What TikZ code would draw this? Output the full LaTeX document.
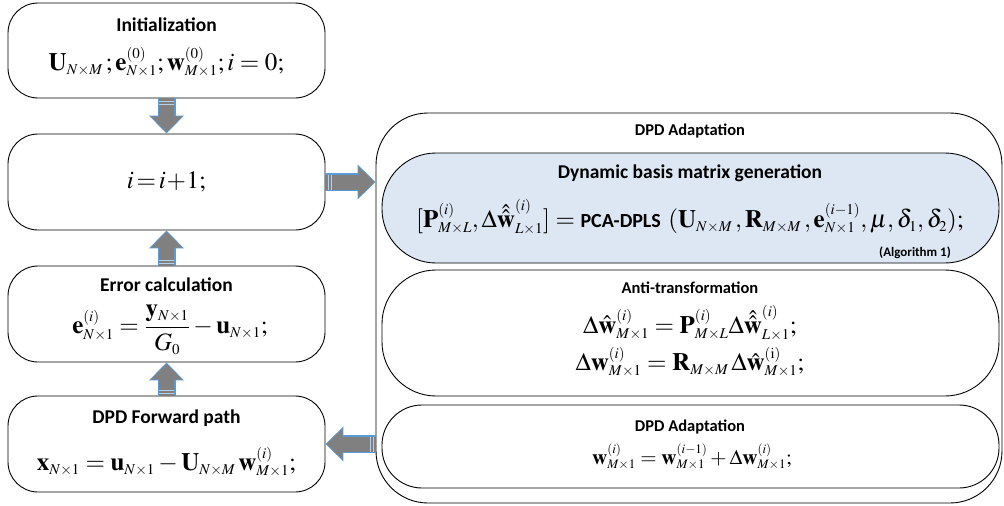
\documentclass[tikz,border=0pt]{standalone}
\usepackage{mathptmx}
\usepackage[no-math]{fontspec}
\setsansfont{Carlito}
\usetikzlibrary{arrows.meta,calc,decorations.markings}
\DeclareMathSizes{25}{25}{15}{11}
\DeclareMathSizes{21}{21}{13}{10}
\definecolor{glow}{RGB}{91,155,213}
\definecolor{arrgray}{RGB}{128,128,128}
\definecolor{bluefill}{RGB}{221,231,243}
\tikzset{
  box/.style={draw=black, line width=0.9pt, rounded corners=30pt, inner sep=0pt},
  bigbox/.style={draw=black, line width=0.9pt, rounded corners=52pt, inner sep=0pt},
  subbox/.style={draw=black, line width=0.9pt, rounded corners=54pt, inner sep=0pt},
  lowbox/.style={draw=black, line width=0.9pt, rounded corners=40pt, inner sep=0pt},
  ttl/.style={font=\sffamily\bfseries\fontsize{19.5}{22}\selectfont, inner sep=0pt},
  gttl/.style={font=\sffamily\bfseries\fontsize{19.5}{22}\selectfont, inner sep=0pt},
  rttl/.style={font=\sffamily\bfseries\fontsize{16.5}{19}\selectfont, inner sep=0pt},
  small/.style={font=\sffamily\bfseries\fontsize{13}{15}\selectfont, inner sep=0pt},
  eqn/.style={font=\fontsize{25}{30}\selectfont, inner sep=0pt},
  eqx/.style={font=\fontsize{21}{25}\selectfont, inner sep=0pt},
  stripe/.style={arrows=-, shorten >=0pt, shorten <=0pt, draw=white!55!glow, line width=0.9pt},
  glowarr/.style={line width=18pt, draw=glow, -{Triangle[width=34pt,length=18pt]}},
  grayarr/.style={line width=15pt, draw=arrgray, -{Triangle[width=30pt,length=16pt]}, shorten >=1.2pt,
    postaction={decorate, decoration={markings,
      mark=at position 2.5pt with {\draw[stripe] (0,-7.5) -- (0,7.5);},
      mark=at position 5.5pt with {\draw[stripe] (0,-7.5) -- (0,7.5);}}}},
}
\begin{document}
\begin{tikzpicture}[x=1pt,y=-1pt]
\useasboundingbox (0,0) rectangle (1004,506);
\fill[white] (0,0) rectangle (1004,506);

% left column
\node[box, minimum width=317pt, minimum height=95pt] (init) at (166.5,50.5) {};
\node[box, minimum width=317pt, minimum height=96pt] (ibox) at (166.5,182) {};
\node[box, minimum width=317pt, minimum height=96pt] (err) at (166.5,314) {};
\node[box, minimum width=317pt, minimum height=96pt] (fwd) at (166.5,444) {};

\node[ttl] (initT) at (166.5,25) {Initialization};
\node[eqn] (initE) at (166.5,62) {$\mathbf{U}_{N\times M}\,;\mathbf{e}^{(0)}_{N\times 1};\mathbf{w}^{(0)}_{M\times 1};i=0;$};
\node[eqn] (iE) at (166.5,182) {$i\!=\!i\!+\!1;$};
\node[ttl] (errT) at (166.5,285) {Error calculation};
\node[eqn] (errE) at (170,330) {$\displaystyle\mathbf{e}^{(i)}_{N\times 1}=\frac{\mathbf{y}_{N\times 1}}{G_0}-\mathbf{u}_{N\times 1};$};
\node[ttl] (fwdT) at (166.5,418) {DPD Forward path};
\node[eqn] (fwdE) at (166.5,462) {$\mathbf{x}_{N\times 1}=\mathbf{u}_{N\times 1}-\mathbf{U}_{N\times M}\,\mathbf{w}^{(i)}_{M\times 1};$};

% right column
\node[bigbox, minimum width=626pt, minimum height=390pt] (big) at (689,308) {};
\node[subbox, fill=bluefill, minimum width=617pt, minimum height=110pt] (gen) at (690.5,208) {};
\node[subbox, minimum width=617pt, minimum height=126pt] (anti) at (690.5,333) {};
\node[lowbox, minimum width=617pt, minimum height=83pt] (upd) at (690.5,446.5) {};

\node[rttl] (bigT) at (690,131) {DPD Adaptation};
\node[gttl] (genT) at (690,173) {Dynamic basis matrix generation};
\node[eqn] (genE) at (690,217) {$[\mathbf{P}^{(i)}_{M\times L},\Delta\hat{\hat{\mathbf{w}}}^{(i)}_{L\times 1}]=\mbox{\sffamily\bfseries\fontsize{20}{22}\selectfont PCA-DPLS}\ (\mathbf{U}_{N\times M}\,,\mathbf{R}_{M\times M}\,,\mathbf{e}^{(i-1)}_{N\times 1},\mu,\delta_1,\delta_2);$};
\node[small, anchor=east] (alg) at (951,253) {(Algorithm 1)};
\node[rttl] (antiT) at (690,288) {Anti-transformation};
\node[eqn] (antiE1) at (690,323) {$\Delta\hat{\mathbf{w}}^{(i)}_{M\times 1}=\mathbf{P}^{(i)}_{M\times L}\Delta\hat{\hat{\mathbf{w}}}^{(i)}_{L\times 1};$};
\node[eqn] (antiE2) at (690,362) {$\Delta\mathbf{w}^{(i)}_{M\times 1}=\mathbf{R}_{M\times M}\,\Delta\hat{\mathbf{w}}^{(\mathrm{i})}_{M\times 1};$};
\node[rttl] (updT) at (690,427) {DPD Adaptation};
\node[eqx] (updE) at (692,457) {$\mathbf{w}^{(i)}_{M\times 1}=\mathbf{w}^{(i-1)}_{M\times 1}+\Delta\mathbf{w}^{(i)}_{M\times 1};$};

% block arrows
\foreach \a/\b in {init.south/ibox.north, err.north/ibox.south, fwd.north/err.south}{
  \draw[glowarr] (\a) -- (\b);
  \draw[grayarr] (\a) -- (\b);
}
\draw[glowarr] (ibox.east) -- (ibox.east -| big.west);
\draw[grayarr] (ibox.east) -- (ibox.east -| big.west);
\draw[glowarr] (fwd.east -| big.west) -- (fwd.east);
\draw[grayarr] (fwd.east -| big.west) -- (fwd.east);
\end{tikzpicture}
\end{document}
